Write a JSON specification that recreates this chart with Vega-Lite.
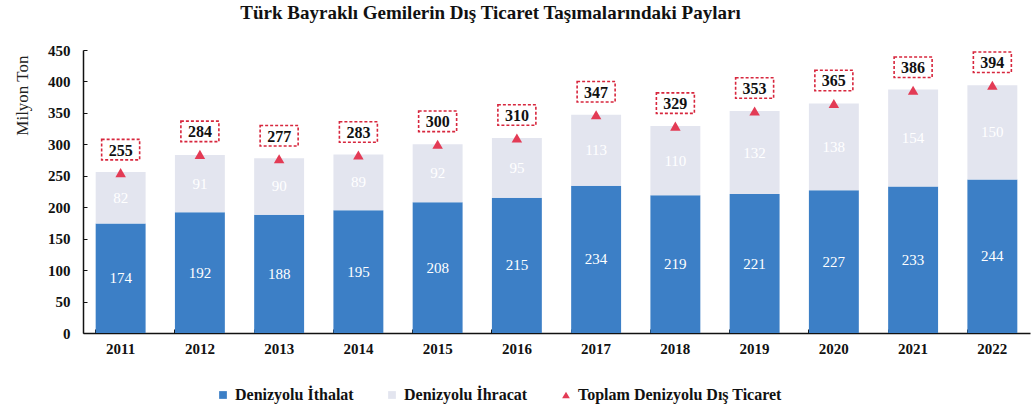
{
  "$schema": "https://vega.github.io/schema/vega-lite/v6.json",
  "autosize": "none",
  "width": 947,
  "height": 283,
  "padding": {"left": 83, "top": 50, "right": 2, "bottom": 77},
  "background": "white",
  "config": {
    "view": {"stroke": null},
    "font": "Liberation Serif",
    "axis": {"labelFont": "Liberation Serif", "titleFont": "Liberation Serif"},
    "legend": {"labelFont": "Liberation Serif"}
  },
  "title": {
    "text": "Türk Bayraklı Gemilerin Dış Ticaret Taşımalarındaki Payları",
    "font": "Liberation Serif",
    "fontSize": 19,
    "fontWeight": "bold",
    "color": "#111111",
    "anchor": "middle",
    "dx": -66,
    "offset": 20
  },
  "datasets": {
    "bars": [
      {"year": "2011", "series": "Denizyolu İthalat", "value": 174},
      {"year": "2011", "series": "Denizyolu İhracat", "value": 82},
      {"year": "2012", "series": "Denizyolu İthalat", "value": 192},
      {"year": "2012", "series": "Denizyolu İhracat", "value": 91},
      {"year": "2013", "series": "Denizyolu İthalat", "value": 188},
      {"year": "2013", "series": "Denizyolu İhracat", "value": 90},
      {"year": "2014", "series": "Denizyolu İthalat", "value": 195},
      {"year": "2014", "series": "Denizyolu İhracat", "value": 89},
      {"year": "2015", "series": "Denizyolu İthalat", "value": 208},
      {"year": "2015", "series": "Denizyolu İhracat", "value": 92},
      {"year": "2016", "series": "Denizyolu İthalat", "value": 215},
      {"year": "2016", "series": "Denizyolu İhracat", "value": 95},
      {"year": "2017", "series": "Denizyolu İthalat", "value": 234},
      {"year": "2017", "series": "Denizyolu İhracat", "value": 113},
      {"year": "2018", "series": "Denizyolu İthalat", "value": 219},
      {"year": "2018", "series": "Denizyolu İhracat", "value": 110},
      {"year": "2019", "series": "Denizyolu İthalat", "value": 221},
      {"year": "2019", "series": "Denizyolu İhracat", "value": 132},
      {"year": "2020", "series": "Denizyolu İthalat", "value": 227},
      {"year": "2020", "series": "Denizyolu İhracat", "value": 138},
      {"year": "2021", "series": "Denizyolu İthalat", "value": 233},
      {"year": "2021", "series": "Denizyolu İhracat", "value": 154},
      {"year": "2022", "series": "Denizyolu İthalat", "value": 244},
      {"year": "2022", "series": "Denizyolu İhracat", "value": 150}
    ],
    "totals": [
      {"year": "2011", "series": "Toplam Denizyolu Dış Ticaret", "total": 255},
      {"year": "2012", "series": "Toplam Denizyolu Dış Ticaret", "total": 284},
      {"year": "2013", "series": "Toplam Denizyolu Dış Ticaret", "total": 277},
      {"year": "2014", "series": "Toplam Denizyolu Dış Ticaret", "total": 283},
      {"year": "2015", "series": "Toplam Denizyolu Dış Ticaret", "total": 300},
      {"year": "2016", "series": "Toplam Denizyolu Dış Ticaret", "total": 310},
      {"year": "2017", "series": "Toplam Denizyolu Dış Ticaret", "total": 347},
      {"year": "2018", "series": "Toplam Denizyolu Dış Ticaret", "total": 329},
      {"year": "2019", "series": "Toplam Denizyolu Dış Ticaret", "total": 353},
      {"year": "2020", "series": "Toplam Denizyolu Dış Ticaret", "total": 365},
      {"year": "2021", "series": "Toplam Denizyolu Dış Ticaret", "total": 386},
      {"year": "2022", "series": "Toplam Denizyolu Dış Ticaret", "total": 394}
    ]
  },
  "encoding": {
    "x": {
      "field": "year",
      "type": "nominal",
      "scale": {"paddingInner": 0.37, "paddingOuter": 0.16},
      "axis": {
        "title": null,
        "labelAngle": 0,
        "labelFontSize": 15,
        "labelFontWeight": "bold",
        "labelColor": "#111111",
        "labelPadding": 12,
        "domainColor": "#111111",
        "domainWidth": 1.5,
        "ticks": true,
        "bandPosition": 0,
        "tickSize": -4,
        "tickColor": "#111111"
      }
    }
  },
  "layer": [
    {
      "data": {"name": "bars"},
      "transform": [
        {"stack": "value", "groupby": ["year"], "sort": [{"field": "series", "order": "descending"}], "as": ["v0", "v1"]},
        {"calculate": "(datum.v0 + datum.v1) / 2", "as": "mid"}
      ],
      "layer": [
        {
          "mark": {"type": "bar"},
          "encoding": {
            "y": {
              "field": "v0",
              "type": "quantitative",
              "scale": {"domain": [0, 450], "nice": false},
              "axis": {
                "title": "Milyon Ton",
                "titleFontSize": 17,
                "titleFontWeight": "normal",
                "titleColor": "#222222",
                "titleAnchor": "end",
                "titlePadding": 16,
                "titleY": 5,
                "values": [0, 50, 100, 150, 200, 250, 300, 350, 400, 450],
                "labelOverlap": false,
                "grid": false,
                "labelFontSize": 15,
                "labelFontWeight": "bold",
                "labelColor": "#111111",
                "labelPadding": 17,
                "domainColor": "#111111",
                "domainWidth": 1.5,
                "tickSize": -4,
                "tickColor": "#111111"
              }
            },
            "y2": {"field": "v1"},
            "color": {
              "field": "series",
              "type": "nominal",
              "scale": {
                "domain": ["Denizyolu İthalat", "Denizyolu İhracat", "Toplam Denizyolu Dış Ticaret"],
                "range": ["#3c7fc6", "#e3e5ef", "#e33b55"]
              },
              "legend": {
                "title": null,
                "orient": "none",
                "legendX": 132,
                "legendY": 337,
                "direction": "horizontal",
                "labelFontSize": 16,
                "labelFontWeight": "bold",
                "labelColor": "#111111",
                "labelLimit": 400,
                "symbolSize": 60,
                "columnPadding": 30
              }
            }
          }
        },
        {
          "mark": {"type": "text", "color": "white", "fontSize": 15, "font": "Liberation Serif"},
          "encoding": {
            "y": {
              "field": "mid",
              "type": "quantitative",
              "axis": {
                "title": "Milyon Ton",
                "titleFontSize": 17,
                "titleFontWeight": "normal",
                "titleColor": "#222222",
                "titleAnchor": "end",
                "titlePadding": 16,
                "titleY": 5,
                "values": [0, 50, 100, 150, 200, 250, 300, 350, 400, 450],
                "labelOverlap": false,
                "grid": false,
                "labelFontSize": 15,
                "labelFontWeight": "bold",
                "labelColor": "#111111",
                "labelPadding": 17,
                "domainColor": "#111111",
                "domainWidth": 1.5,
                "tickSize": -4,
                "tickColor": "#111111"
              }
            },
            "text": {"field": "value", "type": "quantitative"}
          }
        }
      ]
    },
    {
      "data": {"name": "totals"},
      "layer": [
        {
          "mark": {"type": "point", "filled": true, "size": 110, "opacity": 1},
          "encoding": {
            "y": {
              "field": "total",
              "type": "quantitative",
              "axis": {
                "title": "Milyon Ton",
                "titleFontSize": 17,
                "titleFontWeight": "normal",
                "titleColor": "#222222",
                "titleAnchor": "end",
                "titlePadding": 16,
                "titleY": 5,
                "values": [0, 50, 100, 150, 200, 250, 300, 350, 400, 450],
                "labelOverlap": false,
                "grid": false,
                "labelFontSize": 15,
                "labelFontWeight": "bold",
                "labelColor": "#111111",
                "labelPadding": 17,
                "domainColor": "#111111",
                "domainWidth": 1.5,
                "tickSize": -4,
                "tickColor": "#111111"
              }
            },
            "color": {"field": "series", "type": "nominal"},
            "shape": {
              "field": "series",
              "type": "nominal",
              "scale": {
                "domain": ["Denizyolu İthalat", "Denizyolu İhracat", "Toplam Denizyolu Dış Ticaret"],
                "range": ["square", "square", "triangle-up"]
              },
              "legend": {
                "title": null,
                "orient": "none",
                "legendX": 132,
                "legendY": 337,
                "direction": "horizontal",
                "labelFontSize": 16,
                "labelFontWeight": "bold",
                "labelColor": "#111111",
                "labelLimit": 400,
                "symbolSize": 60,
                "columnPadding": 30
              }
            }
          }
        },
        {
          "mark": {
            "type": "point",
            "shape": "M-1,-0.54L1,-0.54L1,0.54L-1,0.54Z",
            "size": 1444,
            "filled": false,
            "fill": "white",
            "fillOpacity": 1,
            "stroke": "#d7263d",
            "strokeWidth": 1.6,
            "strokeDash": [3, 2],
            "opacity": 1,
            "yOffset": -23
          },
          "encoding": {
            "y": {
              "field": "total",
              "type": "quantitative",
              "axis": {
                "title": "Milyon Ton",
                "titleFontSize": 17,
                "titleFontWeight": "normal",
                "titleColor": "#222222",
                "titleAnchor": "end",
                "titlePadding": 16,
                "titleY": 5,
                "values": [0, 50, 100, 150, 200, 250, 300, 350, 400, 450],
                "labelOverlap": false,
                "grid": false,
                "labelFontSize": 15,
                "labelFontWeight": "bold",
                "labelColor": "#111111",
                "labelPadding": 17,
                "domainColor": "#111111",
                "domainWidth": 1.5,
                "tickSize": -4,
                "tickColor": "#111111"
              }
            }
          }
        },
        {
          "mark": {"type": "text", "fontSize": 16, "fontWeight": "bold", "color": "#111111", "font": "Liberation Serif", "yOffset": -22, "baseline": "middle"},
          "encoding": {
            "y": {
              "field": "total",
              "type": "quantitative",
              "axis": {
                "title": "Milyon Ton",
                "titleFontSize": 17,
                "titleFontWeight": "normal",
                "titleColor": "#222222",
                "titleAnchor": "end",
                "titlePadding": 16,
                "titleY": 5,
                "values": [0, 50, 100, 150, 200, 250, 300, 350, 400, 450],
                "labelOverlap": false,
                "grid": false,
                "labelFontSize": 15,
                "labelFontWeight": "bold",
                "labelColor": "#111111",
                "labelPadding": 17,
                "domainColor": "#111111",
                "domainWidth": 1.5,
                "tickSize": -4,
                "tickColor": "#111111"
              }
            },
            "text": {"field": "total", "type": "quantitative"}
          }
        }
      ]
    }
  ]
}
